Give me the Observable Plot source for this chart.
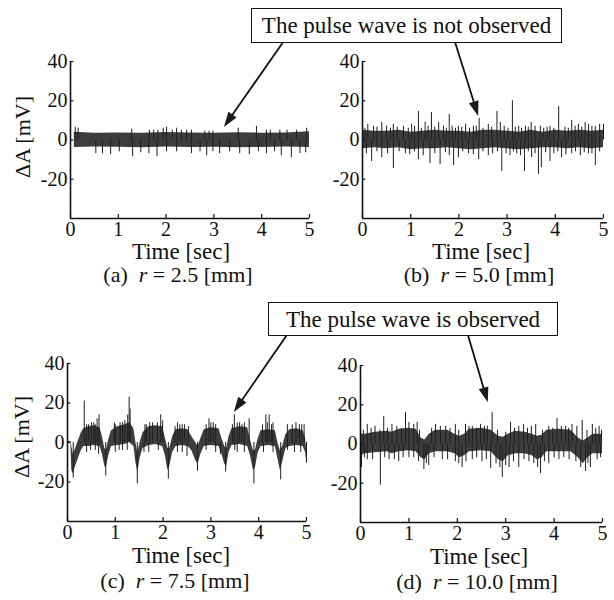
<!DOCTYPE html>
<html>
<head>
<meta charset="utf-8">
<script src="https://cdn.jsdelivr.net/npm/d3@7"></script>
<script src="https://cdn.jsdelivr.net/npm/@observablehq/plot@0.6"></script>
<style>
  html, body { margin: 0; padding: 0; background: white; }
  #wrap { position: relative; width: 614px; height: 600px; background: white; font-family: "Liberation Serif", "Times New Roman", serif; color: #111; overflow: hidden; }
  .panel { position: absolute; }
  .txt { position: absolute; transform: translate(-50%, -50%); white-space: nowrap; line-height: 1; }
  .ylab { position: absolute; transform: translate(-50%, -50%) rotate(-90deg); white-space: nowrap; font-size: 22px; line-height: 1; }
  .box { position: absolute; border: 1.6px solid #111; background: white; box-sizing: border-box; display: flex; align-items: center; justify-content: center; font-size: 23px; white-space: nowrap; line-height: 1; }
</style>
</head>
<body>
<div id="wrap"></div>
<script>
// ---- tick labels ----
const xTicks = [0, 1, 2, 3, 4, 5];
const yTicks = [40, 20, 0, -20];

// ---- panel (a) r = 2.5 mm : [t, lo, hi] core band, [t, v] spikes ----
const aBand = [[0.08,-3.8,4.0],[0.5,-3.6,3.4],[1.0,-3.7,3.6],[1.5,-3.9,3.5],[2.0,-3.6,3.8],[2.5,-3.8,3.6],[3.0,-3.7,3.4],[3.5,-3.9,3.7],[4.0,-3.8,3.5],[4.5,-3.6,3.6],[5.0,-3.8,4.2]];
const aSpikes = [
  [0.10,6.5],[0.16,6],[1.28,5.5],[1.65,5],[1.74,5],[1.83,5],[1.94,6],[2.01,6.5],[2.13,5],[2.22,6],[2.32,5],[2.43,5],[2.53,5],
  [2.81,4.5],[2.90,4.5],[2.98,4.5],[3.51,6],[3.89,7],[4.10,5],[4.18,5],[4.38,5],[4.53,5],[4.73,5],[4.94,6],
  [0.53,-7],[0.67,-7],[0.84,-7.5],[1.02,-6],[1.30,-8.5],[1.47,-6.5],[1.64,-7],[1.81,-8.5],[2.01,-6],[2.22,-6],[2.53,-7],
  [2.71,-6],[2.85,-8],[2.98,-6],[3.12,-7],[3.33,-6],[3.54,-7],[3.74,-7.5],[3.93,-6],[4.10,-7],[4.27,-6],[4.41,-8],
  [4.62,-9],[4.80,-7],[4.92,-6.5]
];

// ---- panel (b) r = 5.0 mm ----
const bBand = [[0.0,-4.5,5],[0.25,-4,4.5],[0.5,-4.5,4.5],[0.75,-4,5],[1.0,-5,4],[1.25,-4.5,4.5],[1.5,-4.5,5],[1.75,-4,4.5],[2.0,-4.5,4.5],[2.25,-5,4],[2.5,-4.5,5],[2.75,-4,5],[3.0,-4.5,4.5],[3.25,-5,4],[3.5,-4.5,5],[3.75,-4,4],[4.0,-4,5],[4.25,-4.5,4.5],[4.5,-4,5],[4.75,-4.5,4.5],[5.0,-4,5]];
const bSpikes = [
  [0.11,8],[0.23,7],[0.40,9],[0.50,7],[0.64,8],[0.85,7],[1.02,8],[1.16,14.5],[1.30,9],[1.43,14],[1.58,9],[1.68,7],[1.80,13],
  [1.99,7],[2.14,8],[2.30,7],[2.42,11],[2.61,8],[2.79,14.5],[2.86,9],[3.11,20],[3.24,7],[3.38,7],[3.50,9],[3.69,7],[3.89,7],
  [4.07,17],[4.34,10],[4.48,8],[4.62,9],[4.76,7],[5.00,8],
  [0.05,6],[0.30,6.5],[0.58,6],[0.72,6.5],[0.95,6],[1.08,7],[1.22,6],[1.36,7],[1.50,6.5],[1.74,6],[1.86,7],[1.93,6],
  [2.06,6.5],[2.22,6],[2.36,7],[2.50,6],[2.68,6.5],[2.94,7],[3.02,6],[3.17,6.5],[3.30,6],[3.44,6.5],[3.58,7],[3.76,6],
  [3.83,6.5],[3.97,6],[4.20,6.5],[4.27,6],[4.41,7],[4.55,6.5],[4.69,8],[4.83,7],[4.92,8],
  [0.19,-11],[0.40,-9],[0.64,-14.5],[0.89,-7],[1.16,-10],[1.40,-12],[1.61,-12.5],[1.89,-13],[1.99,-9],[2.20,-7],[2.41,-10],
  [2.61,-8],[2.89,-16],[3.06,-8],[3.20,-7],[3.36,-16],[3.51,-9],[3.65,-17.5],[3.71,-14],[3.89,-11],[4.13,-9],[4.34,-7],
  [4.52,-8],[4.69,-7],[4.83,-13],
  [0.08,-7],[0.30,-6],[0.52,-7],[0.76,-6],[0.98,-7.5],[1.08,-6],[1.26,-8],[1.50,-7],[1.72,-6.5],[1.80,-8],[2.08,-6],
  [2.30,-7.5],[2.50,-6],[2.70,-7],[2.80,-6],[2.98,-7],[3.13,-6],[3.28,-8],[3.44,-6],[3.58,-7],[3.80,-6.5],[3.97,-7],
  [4.05,-6],[4.22,-7.5],[4.42,-6],[4.60,-6.5],[4.76,-7],[4.92,-6]
];

// ---- panel (c) r = 7.5 mm ----
const cBand = [
  [0.00,-0.5,0.5],[0.07,-0.5,0.5],[0.09,-14,-2],[0.12,-16,-6],[0.17,-12,-3],[0.23,-8,1],[0.29,-4,5],[0.34,-2,7],
  [0.45,-2,8],[0.55,-1.5,8.5],[0.68,-2,7.5],[0.73,-6,3],[0.78,-12,-3],[0.81,-13,-4],[0.86,-7,1],[0.92,-2,6],
  [1.05,-1.5,8],[1.20,-1,9],[1.30,0,10],[1.39,-2,7],[1.43,-10,0],[1.47,-15,-5],[1.52,-8,0],[1.58,-3,5],
  [1.70,-1.5,8],[1.85,-1,8.5],[1.99,-2,8],[2.05,-7,2],[2.10,-14,-3],[2.14,-12,-3],[2.20,-5,3],[2.27,-2,6.5],
  [2.40,-1.5,7],[2.52,-2,6.5],[2.60,-4,3],[2.68,-9,0],[2.73,-11,-2],[2.79,-6,2],[2.86,-2,6.5],[3.00,-1.5,7.5],
  [3.17,-2,7],[3.23,-6,2],[3.29,-11,-2],[3.33,-12,-3],[3.38,-5,3],[3.44,-1.5,7],[3.60,-1,8],[3.77,-2,7.5],
  [3.83,-7,1],[3.89,-14,-4],[3.93,-13,-4],[3.99,-5,2],[4.05,-2,6],[4.20,-1.5,6.5],[4.35,-2,6],[4.40,-8,0],
  [4.45,-14,-4],[4.50,-10,-2],[4.57,-3,4],[4.65,-2,6.5],[4.80,-1.5,7],[4.93,-2,6],[4.98,-5,2],[5.00,-9,-3]
];
const cSpikes = [
  [0.35,21],[0.44,9],[0.55,10],[0.62,12],[0.66,14],[0.98,10],[1.10,10],[1.20,11],[1.26,14],[1.29,23],[1.31,17],
  [1.62,9],[1.78,10],[1.95,14],[1.99,11],[2.30,10],[2.40,9],[2.53,8],[2.96,12],[3.05,10],[3.49,14],[3.60,10],
  [3.70,10],[3.80,12],[4.15,14],[4.22,14],[4.30,10],[4.70,9],[4.85,9],[4.95,9],
  [0.40,9],[0.50,10],[0.58,9],[1.00,9],[1.15,10],[1.65,9],[1.72,10],[1.88,10],[2.25,8],[2.35,9],[2.45,9],[2.90,9],
  [3.00,10],[3.10,9],[3.45,9],[3.55,10],[3.65,9],[4.08,9],[4.18,10],[4.27,9],[4.60,9],[4.78,10],[4.90,9],
  [0.12,-18],[0.80,-17],[1.46,-21],[2.11,-18.5],[2.72,-14.5],[3.31,-15],[3.90,-21],[4.46,-19],[5.00,-10.5],
  [0.40,-5],[0.65,-6],[1.00,-5],[1.15,-4],[1.70,-5],[2.30,-5],[2.50,-7],[3.10,-5],[3.55,-5],[4.10,-5],[4.75,-5],
  [0.48,-4],[0.58,-4],[1.08,-4],[1.25,-4],[1.60,-5],[1.90,-4],[2.40,-5],[2.90,-4],[3.20,-6],[3.50,-4],[3.70,-5],
  [4.30,-5],[4.60,-4],[4.88,-5]
];

// ---- panel (d) r = 10.0 mm ----
const dBand = [
  [0.00,-6,5],[0.10,-5,5],[0.30,-4.5,6],[0.55,-4,6.5],[0.65,-5,6],[0.80,-4,7.5],[1.00,-3.5,8],[1.15,-4,7.5],
  [1.25,-7,3],[1.33,-8,2],[1.42,-5,5],[1.55,-4,7],[1.80,-4,7],[1.95,-5,5],[2.05,-7,4],[2.15,-6,5],[2.25,-4,7.5],
  [2.50,-3.5,8],[2.70,-4,7],[2.85,-8,4],[2.95,-9,3.5],[3.05,-6,5],[3.20,-5,6.5],[3.40,-5,6],[3.55,-6,5],
  [3.65,-8,4],[3.75,-7,4.5],[3.85,-4,7],[4.10,-4,7.5],[4.35,-4,7],[4.50,-7,3],[4.60,-10,1.5],[4.70,-7,3],
  [4.80,-5,5],[5.00,-5,5]
];
const dSpikes = [
  [0.14,10],[0.48,14],[0.65,10],[0.93,16],[1.00,11],[1.10,10],[1.17,11],[1.55,10],[1.65,9],[1.76,9],[1.96,10],
  [2.17,10],[2.31,9],[2.48,10],[2.62,9],[2.72,16],[3.10,11],[3.27,9],[3.37,10],[3.62,10],[3.89,9],[4.06,13],
  [4.24,9],[4.37,10],[4.58,12],[4.79,10],[4.93,9],
  [0.06,7],[0.22,8],[0.30,9],[0.40,7],[0.56,8],[0.75,9],[0.85,8],[1.22,7],[1.47,8],[1.85,8],[2.03,7],[2.24,9],
  [2.40,8],[2.56,9],[2.83,7],[3.00,6],[3.18,8],[3.45,8],[3.53,9],[3.76,7],[3.97,8],[4.15,9],[4.30,8],[4.47,9],
  [4.68,7],[4.86,8],[4.98,7],
  [0.02,-12],[0.14,-8],[0.41,-21],[0.59,-8],[0.79,-9],[1.00,-7],[1.31,-13],[1.41,-11],[1.69,-8],[1.96,-9],[2.10,-12],
  [2.31,-8],[2.51,-9],[2.69,-12.5],[2.93,-17],[3.07,-12],[3.27,-12],[3.48,-9],[3.72,-15],[3.89,-10],[4.10,-8],
  [4.31,-8],[4.65,-14],[4.75,-12],[4.89,-8],
  [0.08,-7],[0.25,-8],[0.50,-7],[0.70,-8],[0.88,-7],[1.10,-7],[1.20,-9],[1.36,-10],[1.52,-7],[1.80,-8],[2.03,-10],
  [2.18,-9],[2.40,-7],[2.60,-8],[2.80,-10],[2.88,-12],[3.00,-11],[3.16,-9],[3.38,-8],[3.58,-10],[3.66,-12],[3.80,-9],
  [4.00,-7],[4.20,-7],[4.45,-9],[4.55,-12],[4.70,-10],[4.96,-7]
];

// ---- annotation arrows: [tailT, tailV, tipT, tipV] in each panel's data units ----
const aArrows = [[4.46, 49.7, 3.22, 6.4]];
const bArrows = [[1.93, 49.7, 2.41, 12]];
const cArrows = [[4.60, 54.2, 3.49, 15.2]];
const dArrows = [[2.23, 55.3, 2.64, 21]];

// ---- texts ----
const boxTexts = ["The pulse wave is not observed", "The pulse wave is observed"];
const captions = [["(a)", "2.5"], ["(b)", "5.0"], ["(c)", "7.5"], ["(d)", "10.0"]];

function arrowMark(arrows) {
  return (index, scales) => {
    const g = d3.create("svg:g");
    for (const [t1, v1, t2, v2] of arrows) {
      const x1 = scales.x(t1), y1 = scales.y(v1), x2 = scales.x(t2), y2 = scales.y(v2);
      const dx = x2 - x1, dy = y2 - y1, len = Math.hypot(dx, dy);
      const ux = dx / len, uy = dy / len, L = 15, W = 5;
      const bx = x2 - ux * L, by = y2 - uy * L;
      g.append("line").attr("x1", x1).attr("y1", y1).attr("x2", bx + ux * 2).attr("y2", by + uy * 2)
        .attr("stroke", "#111").attr("stroke-width", 1.8);
      g.append("path")
        .attr("d", `M${x2},${y2}L${bx - uy * W},${by + ux * W}L${bx + uy * W},${by - ux * W}Z`)
        .attr("fill", "#1a1a1a");
    }
    return g.node();
  };
}

const panels = [
  {band: aBand, spikes: aSpikes, arrows: aArrows, left: 0,   top: 0,   width: 320, ml: 70, mr: 11, mt: 61, mb: 32},
  {band: bBand, spikes: bSpikes, arrows: bArrows, left: 300, top: 0,   width: 314, ml: 62, mr: 11, mt: 61, mb: 32},
  {band: cBand, spikes: cSpikes, arrows: cArrows, left: 0,   top: 300, width: 320, ml: 67, mr: 14, mt: 63, mb: 29},
  {band: dBand, spikes: dSpikes, arrows: dArrows, left: 300, top: 300, width: 314, ml: 60, mr: 12, mt: 65, mb: 28}
];

const wrap = document.getElementById("wrap");
const H = 250;

panels.forEach((p) => {
  const chart = Plot.plot({
    width: p.width, height: H,
    marginLeft: p.ml, marginRight: p.mr, marginTop: p.mt, marginBottom: p.mb,
    x: {domain: [0, 5], ticks: xTicks, tickSize: 0, tickPadding: 3, tickFormat: (d) => String(d), label: null},
    y: {domain: [-40, 40], ticks: yTicks, tickSize: 0, tickPadding: 3, tickFormat: (d) => String(d), label: null},
    style: {fontFamily: "'Liberation Serif', 'Times New Roman', serif", fontSize: "20px", background: "transparent", overflow: "visible", color: "#111"},
    marks: [
      Plot.areaY(p.band, {x: (d) => d[0], y1: (d) => d[1], y2: (d) => d[2], fill: "#3d3d3d"}),
      Plot.ruleX(p.spikes, {x: (d) => d[0], y1: 0, y2: (d) => d[1], stroke: "#1e1e1e", strokeWidth: 1}),
      Plot.ruleX([0], {stroke: "#111", strokeWidth: 1.6}),
      Plot.ruleY([-40], {stroke: "#111", strokeWidth: 1.6}),
      Plot.ruleX(xTicks, {x: (d) => d, y1: -40, y2: -38, stroke: "#111", strokeWidth: 1.2}),
      Plot.ruleY(yTicks, {y: (d) => d, x1: 0, x2: 0.07, stroke: "#111", strokeWidth: 1.2}),
      arrowMark(p.arrows)
    ]
  });
  const div = document.createElement("div");
  div.className = "panel";
  div.style.left = p.left + "px";
  div.style.top = p.top + "px";
  div.style.width = p.width + "px";
  div.style.height = H + "px";
  chart.style.maxWidth = "none";
  div.appendChild(chart);
  wrap.appendChild(div);
});

function addText(html, x, y, size, cls = "txt") {
  const el = document.createElement("div");
  el.className = cls;
  el.style.left = x + "px";
  el.style.top = y + "px";
  if (size) el.style.fontSize = size + "px";
  el.innerHTML = html;
  wrap.appendChild(el);
}

// x axis titles
[[181, 251], [481, 251], [181, 555], [479, 556]].forEach(([x, y]) => addText("Time [sec]", x, y, 23));
// y axis titles
addText("ΔA [mV]", 23, 137, null, "ylab");
addText("ΔA [mV]", 22, 437, null, "ylab");
// captions
const capPos = [[178, 275], [479, 275], [175, 581], [477, 582]];
captions.forEach(([tag, val], i) => {
  addText(`${tag}&nbsp;&nbsp;<i>r</i> = ${val} [mm]`, capPos[i][0], capPos[i][1], 22);
});

// annotation boxes
function addBox(text, x, y, w, h) {
  const el = document.createElement("div");
  el.className = "box";
  el.style.left = x + "px"; el.style.top = y + "px";
  el.style.width = w + "px"; el.style.height = h + "px";
  el.textContent = text;
  wrap.appendChild(el);
}
addBox(boxTexts[0], 251, 8, 311, 35);
addBox(boxTexts[1], 268, 302, 290, 34);
</script>
</body>
</html>
